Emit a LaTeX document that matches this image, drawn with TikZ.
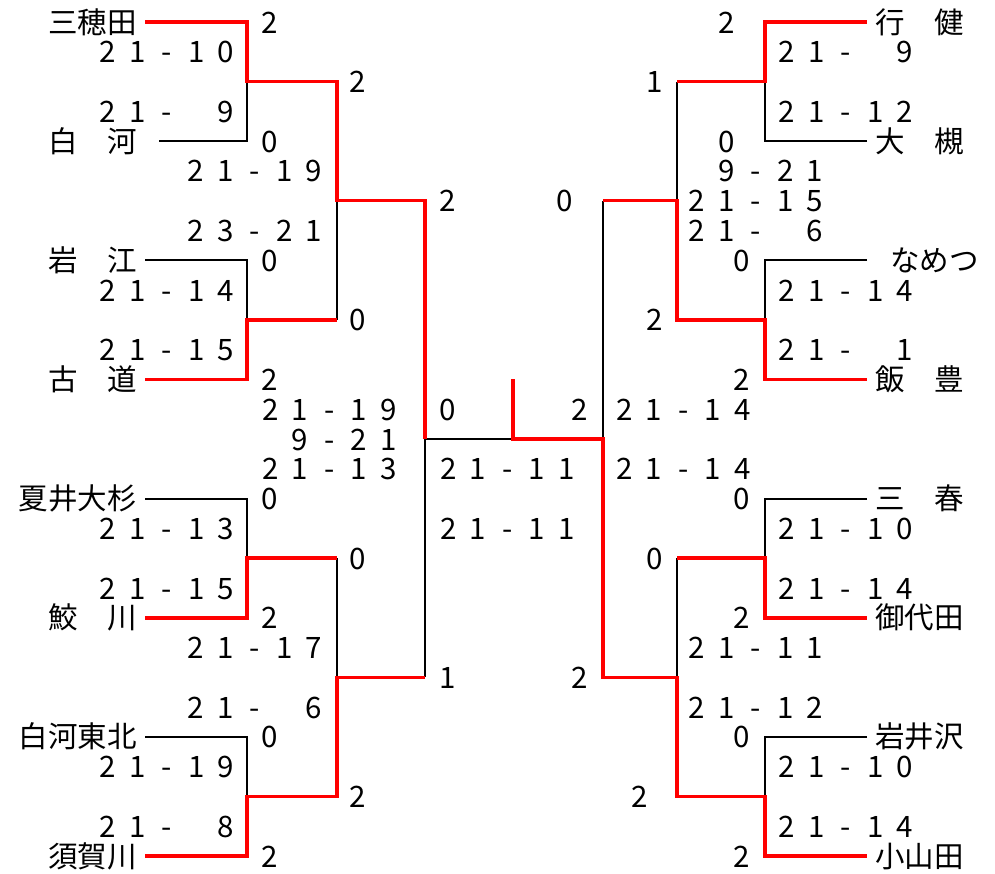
\documentclass[tikz,border=0pt]{standalone}
\usepackage{fontspec}
\setmainfont{Noto Sans CJK JP}
\newcommand\fs{\fontsize{29.5}{30}\selectfont}
\newcommand\cell[1]{\makebox[1em]{#1}}
\newcommand\sco[5]{\cell{#1}\cell{#2}\cell{#3}\cell{#4}\cell{#5}}
\begin{document}
\begin{tikzpicture}[x=1pt,y=-29.79pt,
  redline/.style={draw=red,line width=3.5pt},
  blackline/.style={draw=black,line width=2pt},
  t/.style={inner sep=0pt,outer sep=0pt,anchor=base,yshift=-11pt,font=\fs},
  nameL/.style={t,anchor=base east},
  nameR/.style={t,anchor=base west}]
\useasboundingbox (0,-0.7385) rectangle (995,28.567);
% team names
\node[nameL] (n1) at (136.5,0) {三穂田};
\node[nameL] (n2) at (136.5,4) {白　河};
\node[nameL] (n3) at (136.5,8) {岩　江};
\node[nameL] (n4) at (136.5,12) {古　道};
\node[nameL] (n5) at (136.5,16) {夏井大杉};
\node[nameL] (n6) at (136.5,20) {鮫　川};
\node[nameL] (n7) at (136.5,24) {白河東北};
\node[nameL] (n8) at (136.5,28) {須賀川};
\node[nameR] (m1) at (875,0) {行　健};
\node[nameR] (m2) at (875,4) {大　槻};
\node[nameR] (m3) at (890,8) {なめつ};
\node[nameR] (m4) at (875,12) {飯　豊};
\node[nameR] (m5) at (875,16) {三　春};
\node[nameR] (m6) at (875,20) {御代田};
\node[nameR] (m7) at (875,24) {岩井沢};
\node[nameR] (m8) at (875,28) {小山田};
% bracket points
\coordinate (L1) at (145,0);  \coordinate (L2) at (159,4);
\coordinate (L3) at (145,8);  \coordinate (L4) at (145,12);
\coordinate (L5) at (145,16); \coordinate (L6) at (145,20);
\coordinate (L7) at (145,24); \coordinate (L8) at (145,28);
\coordinate (R1) at (867,0);  \coordinate (R2) at (867,4);
\coordinate (R3) at (867,8);  \coordinate (R4) at (867,12);
\coordinate (R5) at (867,16); \coordinate (R6) at (867,20);
\coordinate (R7) at (867,24); \coordinate (R8) at (867,28);
\coordinate (La1) at (247,2);  \coordinate (La2) at (247,10);
\coordinate (La3) at (247,18); \coordinate (La4) at (247,26);
\coordinate (Lb1) at (337,6);  \coordinate (Lb2) at (337,22);
\coordinate (Lc) at (425,14);
\coordinate (F) at (513,14);   \coordinate (Ftop) at (513,12);
\coordinate (Rc) at (603,14);
\coordinate (Rb1) at (677,6);  \coordinate (Rb2) at (677,22);
\coordinate (Ra1) at (765,2);  \coordinate (Ra2) at (765,10);
\coordinate (Ra3) at (765,18); \coordinate (Ra4) at (765,26);
% losing lines
\draw[blackline] (L2) -| (La1);
\draw[blackline] (L3) -| (La2);
\draw[blackline] (L5) -| (La3);
\draw[blackline] (L7) -| (La4);
\draw[blackline] (La2 -| Lb1) -- (Lb1);
\draw[blackline] (La3 -| Lb2) -- (Lb2);
\draw[blackline] (Lb2 -| Lc) -- (Lc);
\draw[blackline] (Lc) -- (F);
\draw[blackline] (R2) -| (Ra1);
\draw[blackline] (R3) -| (Ra2);
\draw[blackline] (R5) -| (Ra3);
\draw[blackline] (R7) -| (Ra4);
\draw[blackline] (Ra1 -| Rb1) -- (Rb1);
\draw[blackline] (Ra3 -| Rb2) -- (Rb2);
\draw[blackline] (Rb1 -| Rc) -- (Rc);
% winning lines
\draw[redline] (L1) -| (La1) -| (Lb1) -| (Lc);
\draw[redline] (L4) -| (La2) -- (La2 -| Lb1);
\draw[redline] (L6) -| (La3) -- (La3 -| Lb2);
\draw[redline] (L8) -| (La4) -| (Lb2) -- (Lb2 -| Lc);
\draw[redline] (Ftop) -- (F) -- (Rc) |- (Rb2) |- (Ra4) |- (R8);
\draw[redline] (Rb1 -| Rc) -- (Rb1) |- (Ra2) |- (R4);
\draw[redline] (Ra1 -| Rb1) -- (Ra1) |- (R1);
\draw[redline] (Ra3 -| Rb2) -- (Ra3) |- (R6);
% game scores, left
\node[t] (s1) at (167,1) {\sco21-10};
\node[t] (s2) at (167,3) {\sco21-{}9};
\node[t] (s3) at (167,9) {\sco21-14};
\node[t] (s4) at (167,11) {\sco21-15};
\node[t] (s5) at (167,17) {\sco21-13};
\node[t] (s6) at (167,19) {\sco21-15};
\node[t] (s7) at (167,25) {\sco21-19};
\node[t] (s8) at (167,27) {\sco21-{}8};
\node[t] (s9) at (255,5) {\sco21-19};
\node[t] (s10) at (255,7) {\sco23-21};
\node[t] (s11) at (255,21) {\sco21-17};
\node[t] (s12) at (255,23) {\sco21-{}6};
\node[t] (s13) at (329.5,13) {\sco21-19};
\node[t] (s14) at (329.5,14) {\sco{}9-21};
\node[t] (s15) at (329.5,15) {\sco21-13};
\node[t] (s16) at (507.5,15) {\sco21-11};
\node[t] (s17) at (507.5,17) {\sco21-11};
% game scores, right
\node[t] (s18) at (683.5,13) {\sco21-14};
\node[t] (s19) at (683.5,15) {\sco21-14};
\node[t] (s20) at (756,5) {\sco{}9-21};
\node[t] (s21) at (756,6) {\sco21-15};
\node[t] (s22) at (756,7) {\sco21-{}6};
\node[t] (s23) at (756,21) {\sco21-11};
\node[t] (s24) at (756,23) {\sco21-12};
\node[t] (s25) at (846,1) {\sco21-{}9};
\node[t] (s26) at (846,3) {\sco21-12};
\node[t] (s27) at (846,9) {\sco21-14};
\node[t] (s28) at (846,11) {\sco21-{}1};
\node[t] (s29) at (846,17) {\sco21-10};
\node[t] (s30) at (846,19) {\sco21-14};
\node[t] (s31) at (846,25) {\sco21-10};
\node[t] (s32) at (846,27) {\sco21-14};
% match scores, left
\node[t] (a1) at (270,0) {2};
\node[t] (a2) at (270,4) {0};
\node[t] (a3) at (270,8) {0};
\node[t] (a4) at (270,12) {2};
\node[t] (a5) at (270,16) {0};
\node[t] (a6) at (270,20) {2};
\node[t] (a7) at (270,24) {0};
\node[t] (a8) at (270,28) {2};
\node[t] (b1) at (358,2) {2};
\node[t] (b2) at (358,10) {0};
\node[t] (b3) at (358,18) {0};
\node[t] (b4) at (358,26) {2};
\node[t] (c1) at (448,6) {2};
\node[t] (c2) at (448,22) {1};
\node[t] (f1) at (448,13) {0};
\node[t] (f2) at (580,13) {2};
% match scores, right
\node[t] (c3) at (565,6) {0};
\node[t] (c4) at (580,22) {2};
\node[t] (d1) at (655,2) {1};
\node[t] (d2) at (655,10) {2};
\node[t] (d3) at (655,18) {0};
\node[t] (d4) at (640,26) {2};
\node[t] (e1) at (727,0) {2};
\node[t] (e2) at (727,4) {0};
\node[t] (e3) at (742,8) {0};
\node[t] (e4) at (742,12) {2};
\node[t] (e5) at (742,16) {0};
\node[t] (e6) at (742,20) {2};
\node[t] (e7) at (742,24) {0};
\node[t] (e8) at (742,28) {2};
\end{tikzpicture}
\end{document}
